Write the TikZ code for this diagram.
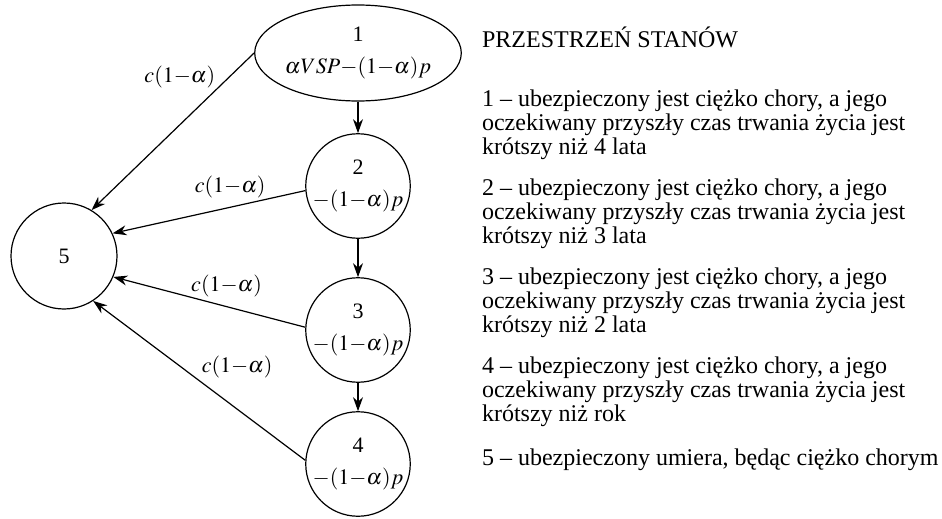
\documentclass[tikz,border=0pt]{standalone}
\usepackage{mathptmx}
\usepackage{fontspec}
\setmainfont{Liberation Serif}
\usetikzlibrary{arrows.meta, shapes.geometric}

\begin{document}
\begin{tikzpicture}[x=0.5pt, y=-0.5pt,
    stan/.style={draw, circle, line width=0.6pt, minimum size=52pt,
      inner sep=0pt, align=center, font=\fontsize{11}{16}\selectfont},
    przejscie/.style={-{Stealth[length=7pt, width=5pt]}, line width=0.6pt},
    etyk/.style={font=\fontsize{11}{13}\selectfont},
    opis/.style={anchor=west, align=left, font=\fontsize{12}{12}\selectfont}]
  \useasboundingbox (0,0) rectangle (942,519);
  % stany
  \node[stan, ellipse, minimum width=85pt, minimum height=48pt] (s1) at (358,53)
    {1\\ $\alpha VSP{-}(1{-}\alpha)p$};
  \node[stan] (s2) at (358,186) {2\\ $-(1{-}\alpha)p$};
  \node[stan] (s3) at (358,330) {3\\ $-(1{-}\alpha)p$};
  \node[stan] (s4) at (358,464) {4\\ $-(1{-}\alpha)p$};
  \node[stan, minimum size=53pt] (s5) at (64,256) {5};
  % przejscia
  \draw[przejscie] (s1) -- (s2);
  \draw[przejscie] (s2) -- (s3);
  \draw[przejscie] (s3) -- (s4);
  \draw[przejscie] (s1.west) -- node[etyk, pos=0.15, anchor=east, inner sep=1pt, xshift=-6pt] (e1) {$c(1{-}\alpha)$} (s5.59);
  \draw[przejscie] (s2.185) -- node[etyk, pos=0.39, above=1pt] (e2) {$c(1{-}\alpha)$} (s5.25);
  \draw[przejscie] (s3.177) -- node[etyk, pos=0.41, above=1pt] (e3) {$c(1{-}\alpha)$} (s5.-23);
  \draw[przejscie] (s4.176) -- node[etyk, pos=0.5, anchor=south west, inner sep=1pt] (e4) {$c(1{-}\alpha)$} (s5.-57);
  % opis stanow
  \node[opis] (tytul) at (475,37) {PRZESTRZEŃ STANÓW};
  \node[opis] (d1) at (475,125) {1 – ubezpieczony jest ciężko chory, a jego\\
    oczekiwany przyszły czas trwania życia jest\\ krótszy niż 4 lata};
  \node[opis] (d2) at (475,214) {2 – ubezpieczony jest ciężko chory, a jego\\
    oczekiwany przyszły czas trwania życia jest\\ krótszy niż 3 lata};
  \node[opis] (d3) at (475,303) {3 – ubezpieczony jest ciężko chory, a jego\\
    oczekiwany przyszły czas trwania życia jest\\ krótszy niż 2 lata};
  \node[opis] (d4) at (475,392) {4 – ubezpieczony jest ciężko chory, a jego\\
    oczekiwany przyszły czas trwania życia jest\\ krótszy niż rok};
  \node[opis] (d5) at (475,460) {5 – ubezpieczony umiera, będąc ciężko chorym};
\end{tikzpicture}
\end{document}
